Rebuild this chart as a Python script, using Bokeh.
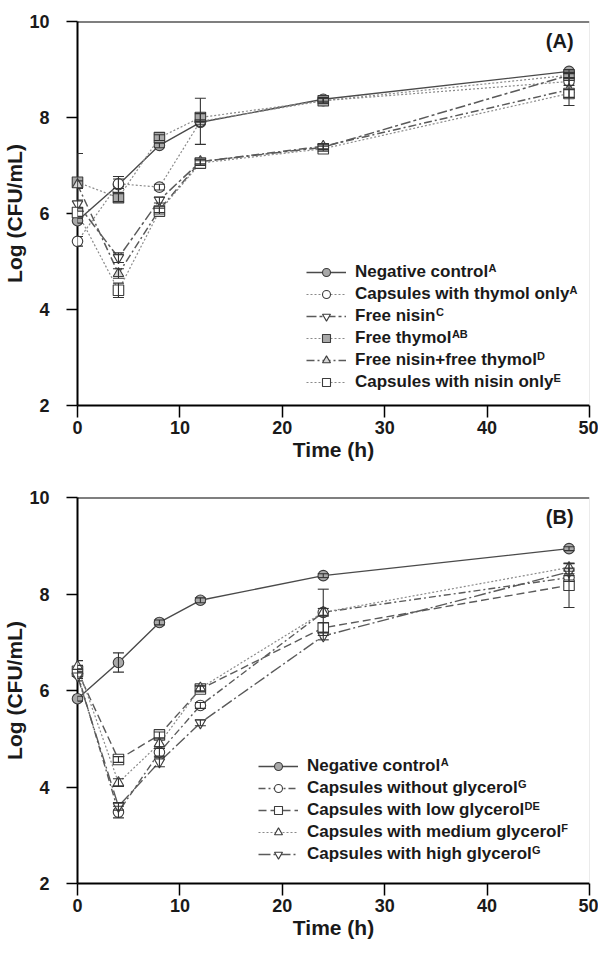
from bokeh.plotting import figure
from bokeh.models import (ColumnDataSource, Whisker, TeeHead, Legend, LegendItem,
                          Label, Range1d, FixedTicker, Span)
from bokeh.layouts import column
from bokeh.embed import file_html
from bokeh.resources import INLINE

# ---------------- data ----------------
time_h = [0, 4, 8, 12, 24, 48]
x_ticks = [0, 10, 20, 30, 40, 50]
y_ticks = [2, 4, 6, 8, 10]

# Panel A
a_labels = ["Negative control", "Capsules with thymol only", "Free nisin",
            "Free thymol", "Free nisin+free thymol", "Capsules with nisin only"]
a_sups = ["A", "A", "C", "AB", "D", "E"]
a_neg_control = [5.85, 6.60, 7.42, 7.90, 8.38, 8.96]
a_caps_thymol = [5.42, 6.62, 6.55, 7.92, 8.35, 8.75]
a_free_nisin = [6.20, 5.08, 6.28, 7.08, 7.38, 8.88]
a_free_thymol = [6.65, 6.33, 7.58, 8.00, 8.35, 8.88]
a_nisin_thymol = [6.60, 4.75, 6.08, 7.08, 7.40, 8.58]
a_caps_nisin = [6.02, 4.40, 6.05, 7.05, 7.35, 8.50]
a_neg_control_sd = [0.05, 0.17, 0.05, 0.05, 0.04, 0.04]
a_caps_thymol_sd = [0.10, 0.10, 0.06, 0.48, 0.05, 0.08]
a_free_nisin_sd = [0.08, 0.10, 0.06, 0.05, 0.05, 0.06]
a_free_thymol_sd = [0.60, 0.08, 0.06, 0.08, 0.05, 0.06]
a_nisin_thymol_sd = [0.08, 0.10, 0.06, 0.05, 0.05, 0.33]
a_caps_nisin_sd = [0.08, 0.15, 0.06, 0.05, 0.05, 0.08]

# Panel B
b_labels = ["Negative control", "Capsules without glycerol", "Capsules with low glycerol",
            "Capsules with medium glycerol", "Capsules with high glycerol"]
b_sups = ["A", "G", "DE", "F", "G"]
b_neg_control = [5.83, 6.58, 7.41, 7.87, 8.38, 8.94]
b_no_glycerol = [6.35, 3.48, 4.72, 5.69, 7.62, 8.34]
b_low_glycerol = [6.40, 4.57, 5.08, 6.03, 7.30, 8.18]
b_med_glycerol = [6.50, 4.09, 4.90, 6.05, 7.62, 8.55]
b_high_glycerol = [6.30, 3.60, 4.52, 5.33, 7.13, 8.46]
b_neg_control_sd = [0.05, 0.20, 0.05, 0.05, 0.04, 0.04]
b_no_glycerol_sd = [0.10, 0.12, 0.08, 0.06, 0.48, 0.08]
b_low_glycerol_sd = [0.12, 0.06, 0.06, 0.06, 0.10, 0.46]
b_med_glycerol_sd = [0.12, 0.08, 0.10, 0.06, 0.08, 0.08]
b_high_glycerol_sd = [0.10, 0.08, 0.10, 0.06, 0.08, 0.08]

# ---------------- styles ----------------
FONT = "Liberation Sans"
GRAY_FILL = "#a9a9a9"
DARK = "#4a4a4a"
DOT = "#8a8a8a"

a_styles = [
    dict(marker="circle", fill=GRAY_FILL, color=DARK, dash="solid", width=1.4),
    dict(marker="circle", fill="white", color=DOT, dash="2 2", width=1.2),
    dict(marker="inverted_triangle", fill="white", color="#5a5a5a", dash="10 3 3 3", width=1.5),
    dict(marker="square", fill=GRAY_FILL, color=DOT, dash="2 2", width=1.2),
    dict(marker="triangle", fill="#d6d6d6", color="#5a5a5a", dash="8 3 2 3", width=1.5),
    dict(marker="square", fill="white", color=DOT, dash="2 2", width=1.2),
]
b_styles = [
    dict(marker="circle", fill=GRAY_FILL, color=DARK, dash="solid", width=1.4),
    dict(marker="circle", fill="white", color="#5a5a5a", dash="7 3 2 3", width=1.4),
    dict(marker="square", fill="white", color="#5a5a5a", dash="8 4", width=1.4),
    dict(marker="triangle", fill="white", color=DOT, dash="2 2", width=1.2),
    dict(marker="inverted_triangle", fill="white", color="#5a5a5a", dash="12 3 2 3", width=1.4),
]

# Helvetica/Arial bold advance widths (per 1000 em), for superscript placement
CW = {" ": 278, "+": 584, "C": 722, "F": 611, "N": 722,
      "a": 556, "c": 556, "d": 611, "e": 556, "f": 333, "g": 611, "h": 611,
      "i": 278, "l": 278, "m": 889, "n": 611, "o": 611, "p": 611, "r": 389,
      "s": 556, "t": 333, "u": 611, "v": 556, "w": 778, "y": 556}


def text_w(s, size):
    return sum(CW.get(ch, 600) for ch in s) * size / 1000.0


LEG_FONT = 17
FRAME_W = 514
X0_PAGE = 79  # page x of frame left (reference)


def make_panel(series, sds, labels, sups, styles, tag, height, top_border, frame_h,
               frame_top_page, leg_left, leg_top):
    p = figure(width=598, height=height, output_backend="svg", toolbar_location=None,
               x_range=Range1d(0, 50), y_range=Range1d(2, 10),
               min_border_left=75, min_border_right=9, min_border_top=top_border,
               min_border_bottom=height - top_border - frame_h)
    p.grid.visible = False
    p.outline_line_color = None
    p.background_fill_color = "white"
    p.border_fill_color = "white"

    for ax in (p.xaxis[0], p.yaxis[0]):
        ax.axis_line_width = 2
        ax.axis_line_color = "black"
        ax.major_tick_line_width = 1.5
        ax.major_tick_line_color = "black"
        ax.major_tick_in = 0
        ax.minor_tick_line_color = None
        ax.major_label_text_font = FONT
        ax.major_label_text_font_style = "bold"
        ax.major_label_text_font_size = "18px"
        ax.major_label_text_color = "#1a1a1a"
        ax.axis_label_text_font = FONT
        ax.axis_label_text_font_style = "bold"
        ax.axis_label_text_font_size = "21px"
        ax.axis_label_text_color = "#1a1a1a"
    p.xaxis.ticker = FixedTicker(ticks=x_ticks)
    p.yaxis.ticker = FixedTicker(ticks=y_ticks)
    p.xaxis.major_tick_out = 12
    p.yaxis.major_tick_out = 11
    p.xaxis.major_label_standoff = 3
    p.yaxis.major_label_standoff = 17
    p.xaxis.axis_label = "Time (h)"
    p.yaxis.axis_label = "Log (CFU/mL)"
    p.xaxis.axis_label_standoff = 1
    p.yaxis.axis_label_standoff = 0

    p.add_layout(Span(location=10, dimension="width", line_color="black", line_width=2))
    p.add_layout(Span(location=50, dimension="height", line_color="#d8d8d8", line_width=1))

    items = []
    for vals, sd, lab, st in zip(series, sds, labels, styles):
        lo = [v - s for v, s in zip(vals, sd)]
        hi = [v + s for v, s in zip(vals, sd)]
        src = ColumnDataSource(dict(t=time_h, v=vals, lo=lo, hi=hi))
        lr = p.line("t", "v", source=src, line_color=st["color"], line_width=st["width"],
                    line_dash=st["dash"])
        wk = Whisker(base="t", lower="lo", upper="hi", source=src, line_color="#333333",
                     line_width=1.1, level="annotation",
                     upper_head=TeeHead(size=11, line_color="#333333", line_width=1.1),
                     lower_head=TeeHead(size=11, line_color="#333333", line_width=1.1))
        p.add_layout(wk)
        sr = p.scatter("t", "v", source=src, marker=st["marker"], size=10.5,
                       fill_color=st["fill"], line_color="#3c3c3c", line_width=1.1,
                       level="annotation")
        items.append(LegendItem(label=lab, renderers=[lr, sr]))

    n = len(labels)
    leg_h = n * 20 + (n - 1) * 2
    frame_x = leg_left - X0_PAGE
    frame_y = frame_h - (leg_top - frame_top_page) - leg_h
    legend = Legend(items=items, location=(frame_x, frame_y), padding=0, margin=0,
                    spacing=2, glyph_width=40, glyph_height=20, label_height=20,
                    label_standoff=9, border_line_color=None, background_fill_alpha=0,
                    label_text_font=FONT, label_text_font_style="bold",
                    label_text_font_size=f"{LEG_FONT}px", label_text_color="#1a1a1a")
    p.add_layout(legend)

    # superscripts (positions relative to the frame, converted to data units)
    def to_data(xp, yp):
        xd = (xp - X0_PAGE) / FRAME_W * 50
        yd = 10 - (yp - frame_top_page) / frame_h * 8
        return xd, yd

    text_x0 = leg_left + 40 + 9
    for i, (lab, sup) in enumerate(zip(labels, sups)):
        row_c = leg_top + 10 + i * 22
        xp = text_x0 + text_w(lab, LEG_FONT) + 1.5
        yp = row_c - 11
        xd, yd = to_data(xp, yp)
        p.add_layout(Label(x=xd, y=yd, text=sup, text_font=FONT, text_font_style="bold",
                           text_font_size="11px", text_baseline="top", text_align="left",
                           text_color="#1a1a1a"))

    tx, ty = to_data(577, frame_top_page + 8)
    p.add_layout(Label(x=tx, y=ty, text=tag, text_font=FONT, text_font_style="bold",
                       text_font_size="20px", text_baseline="top", text_align="right",
                       text_color="#1a1a1a"))
    return p


pA = make_panel([a_neg_control, a_caps_thymol, a_free_nisin, a_free_thymol,
                 a_nisin_thymol, a_caps_nisin],
                [a_neg_control_sd, a_caps_thymol_sd, a_free_nisin_sd, a_free_thymol_sd,
                 a_nisin_thymol_sd, a_caps_nisin_sd],
                a_labels, a_sups, a_styles, "(A)", height=470, top_border=21,
                frame_h=384, frame_top_page=22, leg_left=308, leg_top=263)

pB = make_panel([b_neg_control, b_no_glycerol, b_low_glycerol, b_med_glycerol,
                 b_high_glycerol],
                [b_neg_control_sd, b_no_glycerol_sd, b_low_glycerol_sd, b_med_glycerol_sd,
                 b_high_glycerol_sd],
                b_labels, b_sups, b_styles, "(B)", height=476, top_border=27,
                frame_h=386, frame_top_page=498, leg_left=260, leg_top=757)

layout = column(pA, pB, spacing=0)
open("out.html", "w").write(file_html(layout, INLINE))
